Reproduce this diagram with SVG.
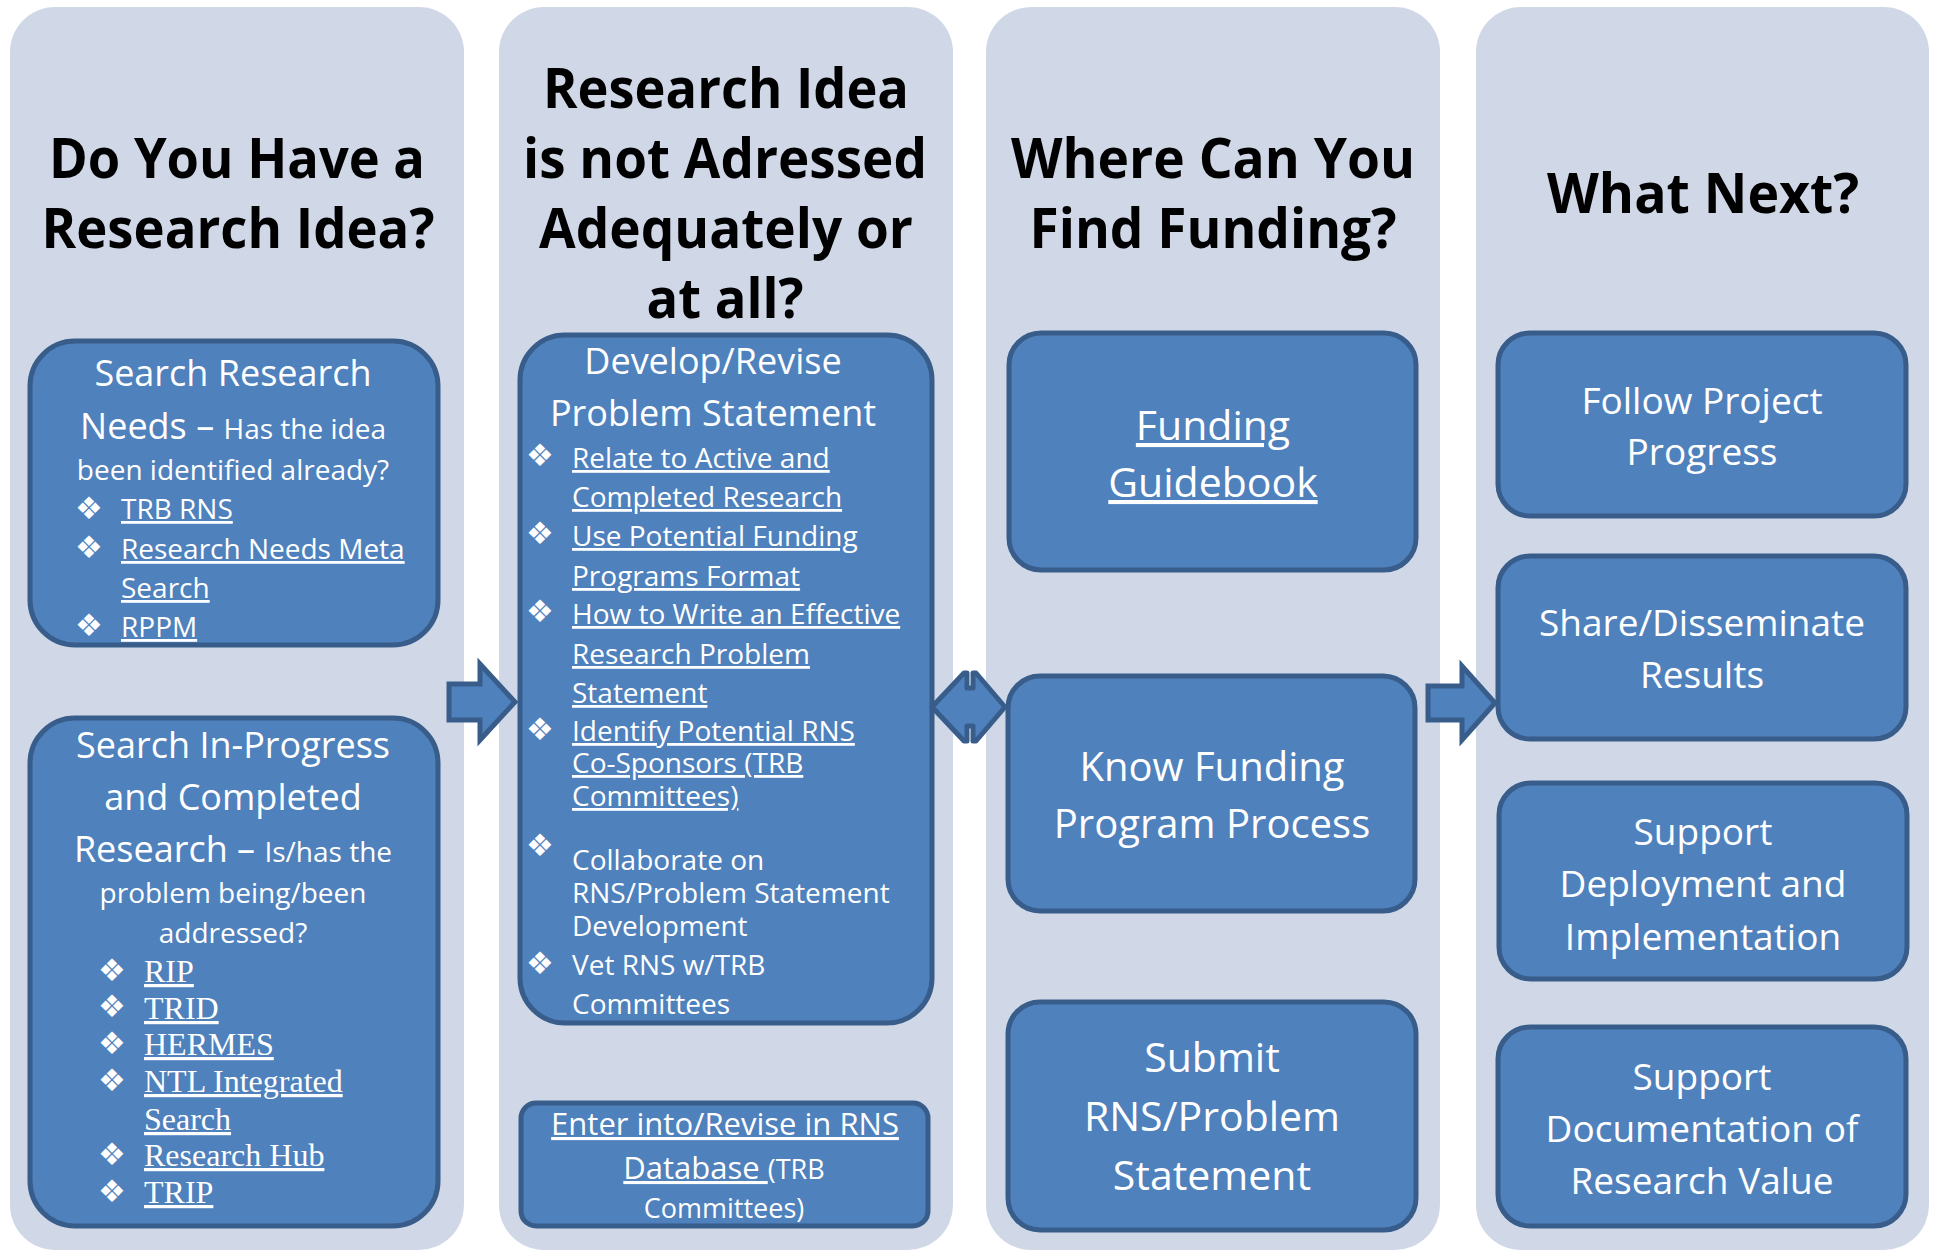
<svg xmlns="http://www.w3.org/2000/svg" width="1934" height="1251" viewBox="0 0 1934 1251">
<style>
.panel{fill:#d0d8e8}
.box{fill:#4f81bd;stroke:#385d8a;stroke-width:5}
.h{font-family:"Open Sans","Liberation Sans",sans-serif;font-weight:bold;fill:#000;font-size:55px;text-anchor:middle}
.t{font-family:"Open Sans","Liberation Sans",sans-serif;fill:#fff}
.c{text-anchor:middle}
.u{text-decoration:underline}
.b{font-family:"DejaVu Sans",sans-serif;fill:#fff;font-size:31px}
.s{font-family:"Liberation Serif","Times New Roman",serif;font-size:32px;fill:#fff;text-decoration:underline}
.arrow{fill:#4f81bd;stroke:#385d8a;stroke-width:5}
</style>
<rect width="1934" height="1251" fill="#fff"/>
<g id="panels">
<rect class="panel" x="10" y="7" width="454" height="1243" rx="45"/>
<rect class="panel" x="499" y="7" width="454" height="1243" rx="45"/>
<rect class="panel" x="986" y="7" width="454" height="1243" rx="45"/>
<rect class="panel" x="1476" y="7" width="453" height="1243" rx="45"/>
</g>
<g id="headers">
<text class="h" x="237" y="178" textLength="376" lengthAdjust="spacingAndGlyphs">Do You Have a</text>
<text class="h" x="238" y="248" textLength="393" lengthAdjust="spacingAndGlyphs">Research Idea?</text>
<text class="h" x="726" y="108" textLength="366" lengthAdjust="spacingAndGlyphs">Research Idea</text>
<text class="h" x="725" y="178" textLength="404" lengthAdjust="spacingAndGlyphs">is not Adressed</text>
<text class="h" x="726" y="248" textLength="374" lengthAdjust="spacingAndGlyphs">Adequately or</text>
<text class="h" x="725" y="318" textLength="157" lengthAdjust="spacingAndGlyphs">at all?</text>
<text class="h" x="1213" y="178" textLength="404" lengthAdjust="spacingAndGlyphs">Where Can You</text>
<text class="h" x="1213" y="248" textLength="367" lengthAdjust="spacingAndGlyphs">Find Funding?</text>
<text class="h" x="1703" y="213" textLength="312" lengthAdjust="spacingAndGlyphs">What Next?</text>
</g>
<g id="search-needs">
<rect class="box" x="30" y="341" width="408" height="304" rx="45"/>
<text class="t c" x="233" y="386" font-size="36">Search Research</text>
<text class="t c" x="233" y="439" font-size="36">Needs – <tspan font-size="28">Has the idea</tspan></text>
<text class="t c" x="233" y="480" font-size="28">been identified already?</text>
<text class="b" x="75" y="519">❖</text>
<text class="b" x="75" y="558">❖</text>
<text class="b" x="75" y="636">❖</text>
<text class="t u" x="121" y="519" font-size="28">TRB RNS</text>
<text class="t u" x="121" y="559" font-size="28">Research Needs Meta</text>
<text class="t u" x="121" y="598" font-size="28">Search</text>
<text class="t u" x="121" y="637" font-size="28">RPPM</text>
</g>
<g id="search-progress">
<rect class="box" x="30" y="718" width="408" height="508" rx="45"/>
<text class="t c" x="233" y="758" font-size="36">Search In-Progress</text>
<text class="t c" x="233" y="810" font-size="36">and Completed</text>
<text class="t c" x="233" y="862" font-size="36">Research – <tspan font-size="28">Is/has the</tspan></text>
<text class="t c" x="233" y="903" font-size="28">problem being/been</text>
<text class="t c" x="233" y="943" font-size="28">addressed?</text>
<text class="b" x="98" y="981">❖</text>
<text class="b" x="98" y="1017">❖</text>
<text class="b" x="98" y="1054">❖</text>
<text class="b" x="98" y="1091">❖</text>
<text class="b" x="98" y="1165">❖</text>
<text class="b" x="98" y="1202">❖</text>
<text class="s" x="144" y="982">RIP</text>
<text class="s" x="144" y="1019">TRID</text>
<text class="s" x="144" y="1055">HERMES</text>
<text class="s" x="144" y="1092">NTL Integrated</text>
<text class="s" x="144" y="1130">Search</text>
<text class="s" x="144" y="1166">Research Hub</text>
<text class="s" x="144" y="1203">TRIP</text>
</g>
<g id="develop">
<rect class="box" x="520" y="335" width="412" height="688" rx="45"/>
<text class="t c" x="713" y="374" font-size="36">Develop/Revise</text>
<text class="t c" x="713" y="426" font-size="36">Problem Statement</text>
<text class="b" x="526" y="466">❖</text>
<text class="b" x="526" y="544">❖</text>
<text class="b" x="526" y="622">❖</text>
<text class="b" x="526" y="740">❖</text>
<text class="b" x="526" y="856">❖</text>
<text class="b" x="526" y="974">❖</text>
<text class="t u" x="572" y="468" font-size="28">Relate to Active and</text>
<text class="t u" x="572" y="507" font-size="28">Completed Research</text>
<text class="t u" x="572" y="546" font-size="28">Use Potential Funding</text>
<text class="t u" x="572" y="586" font-size="28">Programs Format</text>
<text class="t u" x="572" y="624" font-size="28">How to Write an Effective</text>
<text class="t u" x="572" y="664" font-size="28">Research Problem</text>
<text class="t u" x="572" y="703" font-size="28">Statement</text>
<text class="t u" x="572" y="741" font-size="28">Identify Potential RNS</text>
<text class="t u" x="572" y="773" font-size="28">Co-Sponsors (TRB</text>
<text class="t u" x="572" y="806" font-size="28">Committees)</text>
<text class="t" x="572" y="870" font-size="28">Collaborate on</text>
<text class="t" x="572" y="903" font-size="28">RNS/Problem Statement</text>
<text class="t" x="572" y="936" font-size="28">Development</text>
<text class="t" x="572" y="975" font-size="28">Vet RNS w/TRB</text>
<text class="t" x="572" y="1014" font-size="28">Committees</text>
</g>
<g id="enter-rns">
<rect class="box" x="521" y="1103" width="407" height="123" rx="15"/>
<text class="t c u" x="725" y="1135" font-size="31">Enter into/Revise in RNS</text>
<text class="t c" x="724" y="1179" font-size="31"><tspan class="u">Database </tspan><tspan font-size="27">(TRB</tspan></text>
<text class="t c" x="724" y="1218" font-size="27">Committees)</text>
</g>
<g id="funding-guidebook">
<rect class="box" x="1009" y="333" width="407" height="237" rx="32"/>
<text class="t c u" x="1213" y="440" font-size="41">Funding</text>
<text class="t c u" x="1213" y="497" font-size="41">Guidebook</text>
</g>
<g id="know-funding">
<rect class="box" x="1008" y="676" width="407" height="235" rx="32"/>
<text class="t c" x="1212" y="781" font-size="40">Know Funding</text>
<text class="t c" x="1212" y="838" font-size="40">Program Process</text>
</g>
<g id="submit">
<rect class="box" x="1008" y="1002" width="408" height="228" rx="32"/>
<text class="t c" x="1212" y="1072" font-size="41">Submit</text>
<text class="t c" x="1212" y="1131" font-size="41">RNS/Problem</text>
<text class="t c" x="1212" y="1190" font-size="41">Statement</text>
</g>
<g id="follow">
<rect class="box" x="1498" y="333" width="408" height="183" rx="32"/>
<text class="t c" x="1702" y="414" font-size="37">Follow Project</text>
<text class="t c" x="1702" y="465" font-size="37">Progress</text>
</g>
<g id="share">
<rect class="box" x="1498" y="556" width="408" height="183" rx="32"/>
<text class="t c" x="1702" y="636" font-size="37">Share/Disseminate</text>
<text class="t c" x="1702" y="688" font-size="37">Results</text>
</g>
<g id="deployment">
<rect class="box" x="1499" y="783" width="408" height="196" rx="32"/>
<text class="t c" x="1703" y="845" font-size="37">Support</text>
<text class="t c" x="1703" y="897" font-size="37">Deployment and</text>
<text class="t c" x="1703" y="950" font-size="37">Implementation</text>
</g>
<g id="documentation">
<rect class="box" x="1498" y="1027" width="408" height="199" rx="32"/>
<text class="t c" x="1702" y="1090" font-size="37">Support</text>
<text class="t c" x="1702" y="1142" font-size="37">Documentation of</text>
<text class="t c" x="1702" y="1194" font-size="37">Research Value</text>
</g>
<g id="connectors">
<path class="arrow" d="M449,684 L480,684 L480,664 L515,702 L480,740 L480,720 L449,720 Z"/>
<path class="arrow" stroke-linejoin="round" d="M932,707 L964,673 L967,673 L967,688 L973,688 L973,673 L976,673 L1005,707 L976,741 L973,741 L973,726 L967,726 L967,741 L964,741 Z"/>
<path class="arrow" d="M1428,686 L1462,686 L1462,666 L1495,703 L1462,740 L1462,720 L1428,720 Z"/>
</g>
</svg>
